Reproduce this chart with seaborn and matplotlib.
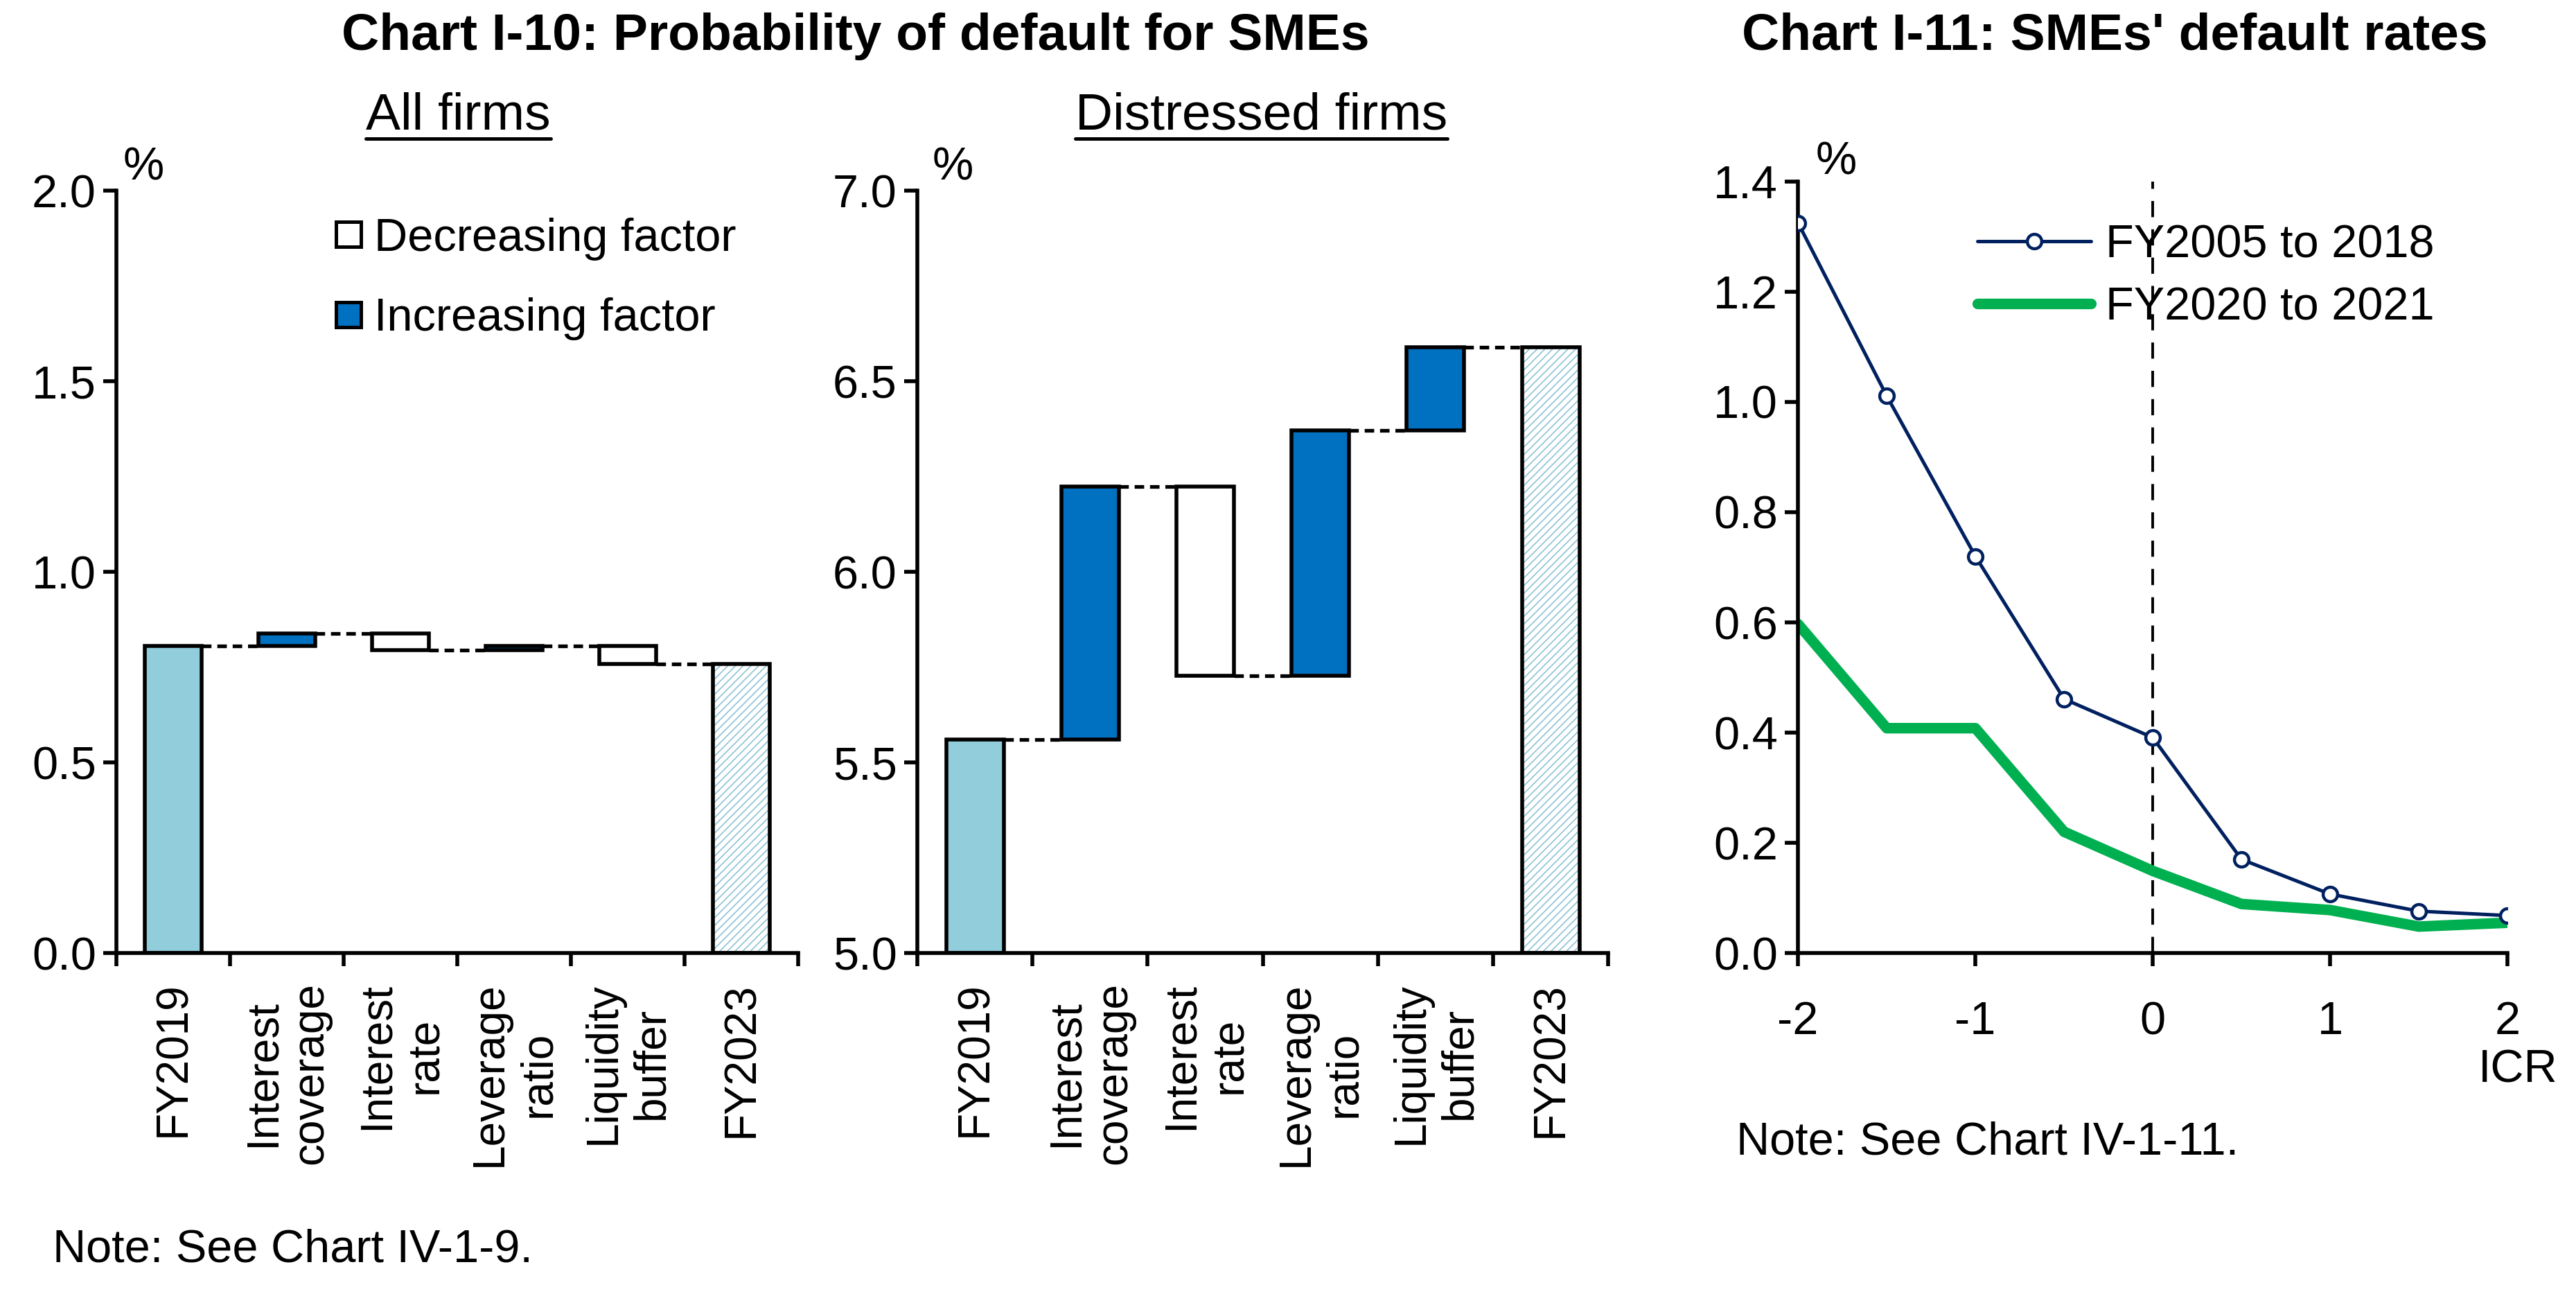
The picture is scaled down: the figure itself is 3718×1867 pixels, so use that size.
import numpy as np
import pandas as pd
import matplotlib
matplotlib.use("Agg")
import matplotlib.pyplot as plt
from matplotlib.lines import Line2D
import seaborn as sns

# Chart I-10: waterfall of probability of default (%)
categories = ["FY2019", "Interest\ncoverage", "Interest\nrate",
              "Leverage\nratio", "Liquidity\nbuffer", "FY2023"]
all_start = 0.806
all_changes = [0.032, -0.044, 0.011, -0.046]
dist_start = 5.56
dist_changes = [0.663, -0.495, 0.643, 0.218]

# Chart I-11: default rates by ICR (%)
icr = [-2, -1.5, -1, -0.5, 0, 0.5, 1, 1.5, 2]
rate_0518 = [1.325, 1.011, 0.720, 0.461, 0.391, 0.170, 0.107, 0.076, 0.068]
rate_2021 = [0.597, 0.408, 0.408, 0.220, 0.149, 0.089, 0.078, 0.048, 0.055]

base_col = "#92cddc"
inc_col = "#0070c0"
hatch_col = "#8cc3d6"
navy = "#002060"
green = "#00b050"

sns.set_theme(style="ticks")
plt.rcParams["font.family"] = ["Liberation Sans", "DejaVu Sans"]
plt.rcParams["hatch.linewidth"] = 0.6
for k in ["text.color", "axes.labelcolor", "xtick.color", "ytick.color"]:
    plt.rcParams[k] = "black"
FS = 24


def style_axes(ax):
    for s in ["top", "right"]:
        ax.spines[s].set_visible(False)
    for s in ["left", "bottom"]:
        ax.spines[s].set_linewidth(2.0)
        ax.spines[s].set_color("black")
    ax.tick_params(axis="both", which="major", direction="out", length=7,
                   width=2.0, color="black", labelsize=FS, labelcolor="black")
    ax.yaxis.set_major_formatter(matplotlib.ticker.FormatStrFormatter("%.1f"))


def draw_waterfall(ax, start, changes, ymin, ymax):
    n = len(categories)
    x = np.arange(n)
    w = 0.5
    levels = np.concatenate([[start], start + np.cumsum(changes)])
    ax.bar(x[0], start - ymin, bottom=ymin, width=w, color=base_col,
           edgecolor="black", linewidth=2.0, zorder=2)
    for i, ch in enumerate(changes):
        lo = min(levels[i], levels[i + 1])
        col = inc_col if ch > 0 else "white"
        ax.bar(x[i + 1], abs(ch), bottom=lo, width=w, color=col,
               edgecolor="black", linewidth=2.0, zorder=2)
    # last bar: light blue hatch with black outline
    ax.bar(x[-1], levels[-1] - ymin, bottom=ymin, width=w, color="white",
           edgecolor=hatch_col, hatch="//////", linewidth=0, zorder=2)
    ax.bar(x[-1], levels[-1] - ymin, bottom=ymin, width=w, fill=False,
           edgecolor="black", linewidth=2.0, zorder=3)
    # dashed connectors
    for i in range(n - 1):
        ax.plot([x[i] + w / 2, x[i + 1] - w / 2], [levels[i], levels[i]],
                color="black", lw=1.9, dashes=(2.6, 1.6), zorder=1)
    ax.set_xlim(-0.5, n - 0.5)
    ax.set_ylim(ymin, ymax)
    ax.set_xticks(np.arange(-0.5, n, 1))
    ax.set_xticklabels([])
    ax.set_xticks(x, minor=True)
    ax.set_xticklabels(categories, minor=True, rotation=90, fontsize=23,
                       linespacing=1.2)
    ax.tick_params(axis="x", which="minor", length=0, pad=15)
    ax.set_yticks(np.arange(ymin, ymax + 0.01, 0.5))


fig = plt.figure(figsize=(18.59, 9.335), dpi=200)
ax1 = fig.add_axes([0.0452, 0.2635, 0.2646, 0.5892])
ax2 = fig.add_axes([0.3561, 0.2635, 0.2682, 0.5892])
ax3 = fig.add_axes([0.698, 0.2635, 0.2754, 0.5962])

draw_waterfall(ax1, all_start, all_changes, 0.0, 2.0)
draw_waterfall(ax2, dist_start, dist_changes, 5.0, 7.0)

handles = [
    Line2D([], [], marker="s", linestyle="none", markersize=13,
           markerfacecolor="white", markeredgecolor="black", markeredgewidth=1.8),
    Line2D([], [], marker="s", linestyle="none", markersize=13,
           markerfacecolor=inc_col, markeredgecolor="black", markeredgewidth=1.8),
]
ax1.legend(handles, ["Decreasing factor", "Increasing factor"], loc="upper left",
           bbox_to_anchor=(0.32, 0.965), frameon=False, fontsize=FS,
           handlelength=0.6, handletextpad=0.25, labelspacing=0.8,
           borderpad=0, borderaxespad=0)

# Chart I-11
sns.lineplot(x=icr, y=rate_0518, ax=ax3, color=navy, lw=1.8, marker="o",
             markersize=7.5, markerfacecolor="white", markeredgecolor=navy,
             markeredgewidth=1.6, label="FY2005 to 2018", zorder=3)
sns.lineplot(x=icr, y=rate_2021, ax=ax3, color=green, lw=5.5,
             label="FY2020 to 2021", zorder=2)
ax3.axvline(0, color="black", lw=1.4, dashes=(6, 4.5), zorder=1)
ax3.set_xlim(-2, 2)
ax3.set_ylim(0, 1.4)
ax3.set_xticks([-2, -1, 0, 1, 2])
ax3.set_xticklabels(["-2", "-1", "0", "1", "2"])
ax3.set_yticks(np.arange(0, 1.41, 0.2))
ax3.legend(loc="upper left", bbox_to_anchor=(0.253, 0.945), frameon=False,
           fontsize=FS, handlelength=2.46, handletextpad=0.31,
           labelspacing=0.42, borderpad=0, borderaxespad=0)

for ax in (ax1, ax2, ax3):
    style_axes(ax)
ax3.tick_params(axis="x", pad=18)

ax3.text(1.015, -0.152, "ICR", transform=ax3.transAxes, ha="center",
         va="center", fontsize=FS)

# "%" unit labels
ax1.text(0.04, 1.03, "%", transform=ax1.transAxes, ha="center", va="center", fontsize=FS)
ax2.text(0.051, 1.03, "%", transform=ax2.transAxes, ha="center", va="center", fontsize=FS)
ax3.text(0.054, 1.025, "%", transform=ax3.transAxes, ha="center", va="center", fontsize=FS)

# titles and notes
fig.text(0.332, 0.972, "Chart I-10: Probability of default for SMEs",
         ha="center", va="center", fontsize=27, fontweight="bold")
fig.text(0.821, 0.972, "Chart I-11: SMEs' default rates",
         ha="center", va="center", fontsize=27, fontweight="bold")
subs = [fig.text(0.178, 0.9106, "All firms", ha="center", va="center", fontsize=27),
        fig.text(0.4896, 0.9106, "Distressed firms", ha="center", va="center", fontsize=27)]
fig.text(0.0204, 0.034, "Note: See Chart IV-1-9.", ha="left", va="center", fontsize=FS)
fig.text(0.674, 0.117, "Note: See Chart IV-1-11.", ha="left", va="center", fontsize=FS)

# underline the panel subtitles
fig.canvas.draw()
inv = fig.transFigure.inverted()
for t in subs:
    bb = t.get_window_extent()
    (x0, y0), (x1, y1) = inv.transform([(bb.x0, bb.y0), (bb.x1, bb.y1)])
    fig.add_artist(Line2D([x0, x1], [y0 + 0.001, y0 + 0.001], color="black",
                          lw=1.8, transform=fig.transFigure))

fig.savefig("out.png", dpi=200, facecolor="white")
